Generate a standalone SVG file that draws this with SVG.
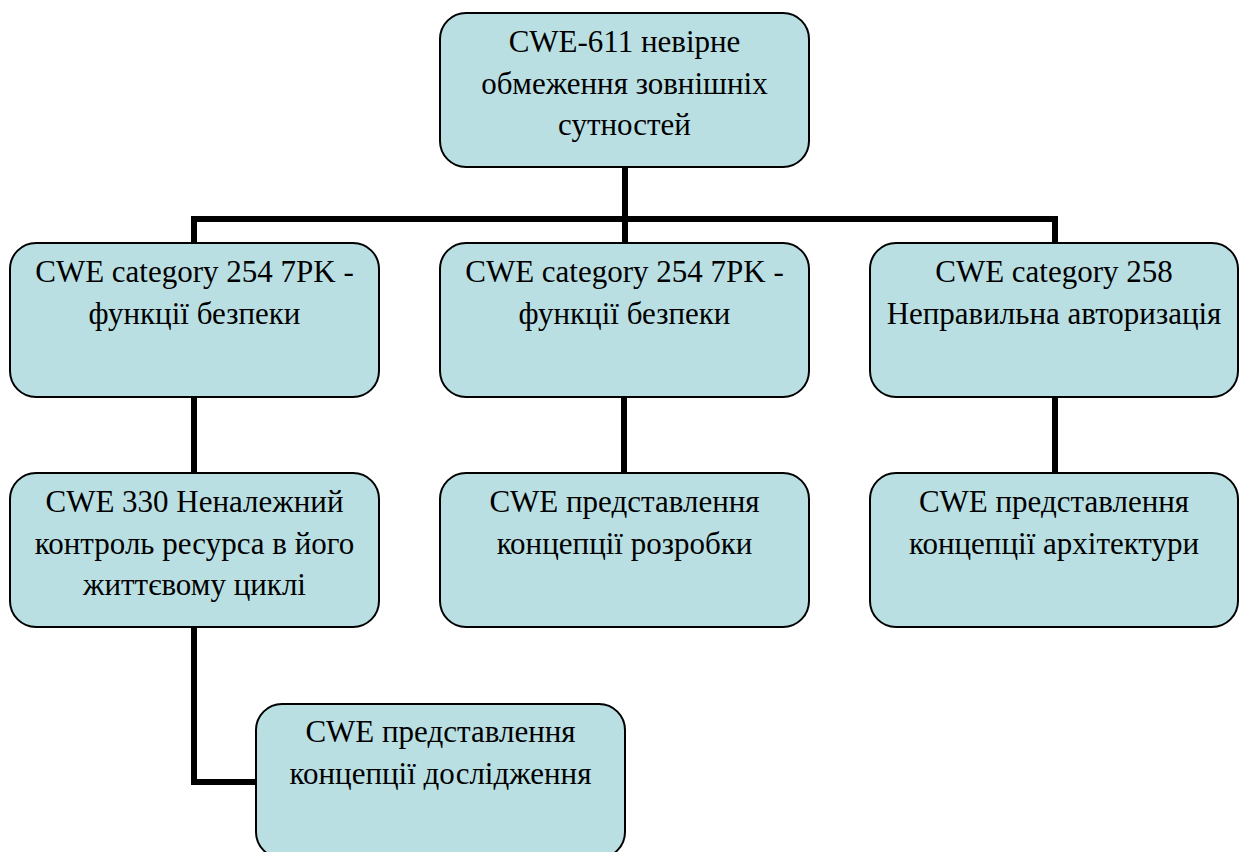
<svg xmlns="http://www.w3.org/2000/svg" width="1240" height="852" viewBox="0 0 1240 852">
<style>
.box{fill:#B9DFE3;stroke:#000;stroke-width:2}
text{font-family:'Liberation Serif','Times New Roman',serif;font-size:31px;fill:#000;text-anchor:middle}
.c{fill:none;stroke:#000;stroke-width:6;stroke-linejoin:miter}
</style>
<rect width="1240" height="852" fill="#fff"/>
<g id="connectors">
<path class="c" d="M625 167V243"/>
<path class="c" d="M194 243V219H1055V243"/>
<path class="c" d="M194 397V473"/>
<path class="c" d="M624 397V473"/>
<path class="c" d="M1055 397V473"/>
<path class="c" d="M194 627V782H256"/>
</g>
<g id="n0"><rect class="box" x="440" y="13" width="369" height="154" rx="26"/>
<text x="624.5" y="52">CWE-611 невірне</text>
<text x="624.5" y="93.5">обмеження зовнішніх</text>
<text x="624.5" y="135">сутностей</text></g>
<g id="n1"><rect class="box" x="10" y="243" width="369" height="154" rx="26"/>
<text x="194.5" y="282">CWE category 254 7PK -</text>
<text x="194.5" y="323.5">функції безпеки</text></g>
<g id="n2"><rect class="box" x="440" y="243" width="369" height="154" rx="26"/>
<text x="624.5" y="282">CWE category 254 7PK -</text>
<text x="624.5" y="323.5">функції безпеки</text></g>
<g id="n3"><rect class="box" x="870" y="243" width="368" height="154" rx="26"/>
<text x="1054" y="282">CWE category 258</text>
<text x="1054" y="323.5">Неправильна авторизація</text></g>
<g id="n4"><rect class="box" x="10" y="473" width="369" height="154" rx="26"/>
<text x="194.5" y="512">CWE 330 Неналежний</text>
<text x="194.5" y="553.5">контроль ресурса в його</text>
<text x="194.5" y="595">життєвому циклі</text></g>
<g id="n5"><rect class="box" x="440" y="473" width="369" height="154" rx="26"/>
<text x="624.5" y="512">CWE представлення</text>
<text x="624.5" y="553.5">концепції розробки</text></g>
<g id="n6"><rect class="box" x="870" y="473" width="368" height="154" rx="26"/>
<text x="1054" y="512">CWE представлення</text>
<text x="1054" y="553.5">концепції архітектури</text></g>
<g id="n7"><rect class="box" x="256" y="704" width="369" height="154" rx="26"/>
<text x="440.5" y="742">CWE представлення</text>
<text x="440.5" y="783.5">концепції дослідження</text></g>
</svg>
